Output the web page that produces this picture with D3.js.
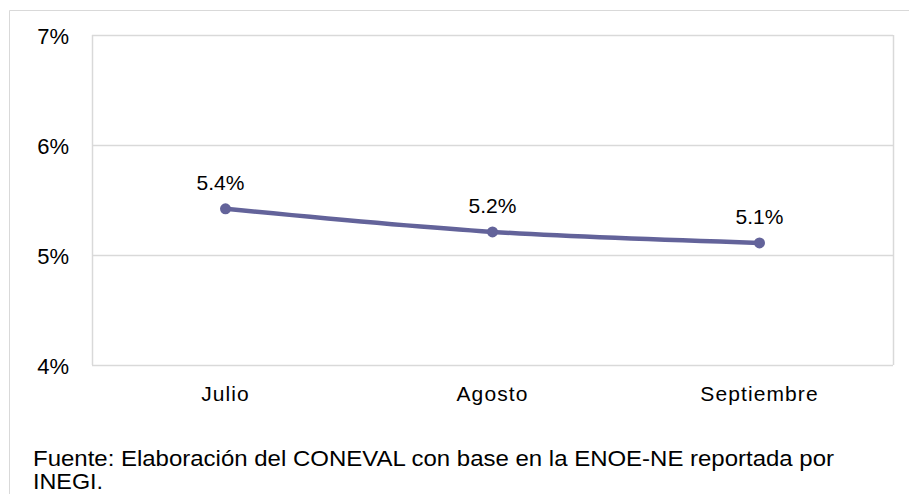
<!DOCTYPE html>
<html><head><meta charset="utf-8">
<script src="https://cdn.jsdelivr.net/npm/d3@7"></script>
<style>body{margin:0;background:#fff}svg{display:block;font-family:"Liberation Sans",Arial,sans-serif}</style>
</head><body>
<svg id="c" width="909" height="494"></svg>
<script>
const categories = ["Julio", "Agosto", "Septiembre"];
const values = [5.42, 5.21, 5.11];
const labels = ["5.4%", "5.2%", "5.1%"];
const yTicks = [4, 5, 6, 7];
const sourceLines = ["Fuente: Elaboración  del CONEVAL  con base en la ENOE-NE  reportada por", "INEGI."];

const svg = d3.select("#c");
const m = {l: 92, r: 16, t: 35, b: 129};
const W = 909, H = 494;
const FF = "Liberation Sans, Arial, sans-serif";
// outer frame
svg.append("path").attr("d", "M9.5,494V10.5H909").attr("fill", "none").attr("stroke", "#d9d9d9").attr("stroke-width", 1);

const x = d3.scaleBand().domain(categories).range([m.l, W - m.r]);
const y = d3.scaleLinear().domain([4, 7]).range([H - m.b, m.t]);

const g = svg.append("g");
g.selectAll("line.grid").data(yTicks).join("line")
  .attr("x1", m.l).attr("x2", W - m.r)
  .attr("y1", d => y(d) + 0.5).attr("y2", d => y(d) + 0.5)
  .attr("stroke", "#d9d9d9").attr("stroke-width", 1.5);
g.append("line").attr("x1", m.l + 0.5).attr("x2", m.l + 0.5).attr("y1", y(7)).attr("y2", y(4))
  .attr("stroke", "#d9d9d9").attr("stroke-width", 1.5);
g.append("line").attr("x1", W - m.r + 0.5).attr("x2", W - m.r + 0.5).attr("y1", y(7)).attr("y2", y(4))
  .attr("stroke", "#d9d9d9").attr("stroke-width", 1.5);

const yAxis = d3.axisLeft(y).tickValues(yTicks).tickFormat(d => d + "%").tickSize(0).tickPadding(23);
const ya = svg.append("g").attr("transform", `translate(${m.l},0)`).call(yAxis);
ya.select(".domain").remove();
ya.selectAll("text").attr("font-size", 22).attr("fill", "#000").attr("font-family", FF).attr("dy", "0.4em");

const xAxis = d3.axisBottom(x).tickSize(0).tickPadding(21);
const xa = svg.append("g").attr("transform", `translate(0,${y(4)})`).call(xAxis);
xa.select(".domain").remove();
xa.selectAll("text").attr("font-size", 21).attr("fill", "#000").attr("font-family", FF)
  .attr("letter-spacing", "1.1px");

const pts = categories.map((c, i) => [x(c) + x.bandwidth() / 2, y(values[i])]);
svg.append("path").attr("d", d3.line().curve(d3.curveMonotoneX)(pts))
  .attr("fill", "none").attr("stroke", "#63639a").attr("stroke-width", 4.5).attr("stroke-linecap", "round");
svg.selectAll("circle.pt").data(pts).join("circle")
  .attr("cx", d => d[0]).attr("cy", d => d[1]).attr("r", 5.5).attr("fill", "#63639a");
svg.selectAll("text.lbl").data(pts).join("text")
  .attr("x", (d, i) => d[0] - (i === 0 ? 5 : 0)).attr("y", d => d[1] - 19)
  .attr("text-anchor", "middle").attr("font-size", 21).attr("fill", "#000").attr("font-family", FF)
  .text((d, i) => labels[i]);

svg.selectAll("text.src").data(sourceLines).join("text")
  .attr("x", 33).attr("y", (d, i) => 466 + i * 23)
  .attr("font-size", 22).attr("fill", "#000").attr("font-family", FF)
  .attr("textLength", (d, i) => i === 0 ? 801 : 70)
  .attr("lengthAdjust", "spacingAndGlyphs")
  .text(d => d);
</script>
</body></html>
